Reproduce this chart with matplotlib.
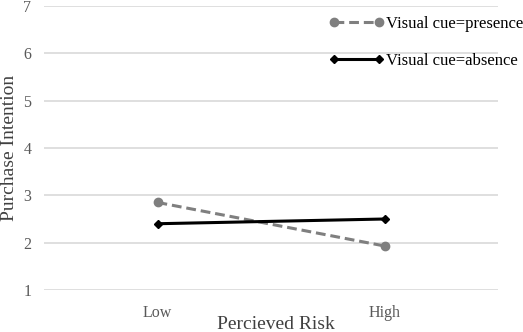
import matplotlib.pyplot as plt
import numpy as np

risk_levels = ['Low', 'High']
presence = [2.85, 1.93]
absence = [2.40, 2.50]
y_ticks = [1, 2, 3, 4, 5, 6, 7]

plt.rcParams['font.family'] = ['Liberation Serif', 'DejaVu Serif']

fig = plt.figure(figsize=(5.23, 3.32), dpi=100)
ax = fig.add_axes([44/523, 1 - 290/332, 454/523, 284/332])

x = np.arange(len(risk_levels))
ax.plot(x, presence, color='#7f7f7f', linestyle=(0, (3.2, 1.6)), linewidth=2.2,
        marker='o', markersize=6, label='Visual cue=presence')
ax.plot(x, absence, color='black', linestyle='-', linewidth=2.2,
        marker='D', markersize=4.5, label='Visual cue=absence')

ax.set_xlim(-0.5, 1.5)
ax.set_ylim(1, 7)
ax.set_yticks(y_ticks)
ax.set_xticks(x)
ax.set_xticklabels(risk_levels)
ax.yaxis.grid(True, color='#d9d9d9', linewidth=1.2)
ax.set_axisbelow(True)
for s in ax.spines.values():
    s.set_visible(False)
ax.tick_params(length=0, labelsize=11.5, colors='#595959')
ax.tick_params(axis='y', pad=9)
ax.tick_params(axis='x', pad=11)

fig.text(276/523, 3/332, 'Percieved Risk', fontsize=14, color='#404040',
         ha='center', va='baseline')
fig.text(10/523, 1 - 148/332, 'Purchase Intention', rotation=90, fontsize=14,
         color='#404040', ha='center', va='center')

ax.legend(loc='upper left', bbox_to_anchor=(329/523, 1 - 16/332),
          bbox_transform=fig.transFigure, frameon=False, fontsize=12,
          handlelength=3.3, handletextpad=0.1, labelspacing=1.25,
          borderaxespad=0, borderpad=0, numpoints=2)

fig.savefig('out.png', dpi=100)
